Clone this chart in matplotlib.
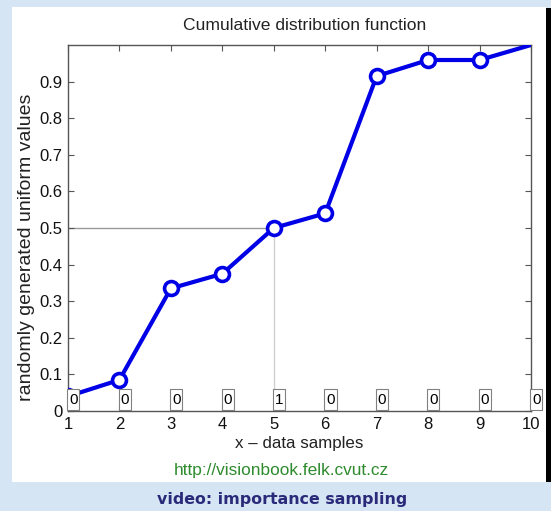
#!/usr/bin/env python3

import matplotlib
import matplotlib.pyplot as plt
import matplotlib.patches as mpatches
from matplotlib.path import Path

matplotlib.use("Agg")

# cumulative distribution of sample weights
x_samples = [1, 2, 3, 4, 5, 6, 7, 8, 9, 10]
cdf_values = [0.04, 0.085, 0.335, 0.375, 0.50, 0.54, 0.915, 0.959, 0.959, 1.0]
# how many times each sample was drawn
draw_counts = [0, 0, 0, 0, 1, 0, 0, 0, 0, 0]
# the uniform value that was drawn, and the sample it maps to
drawn_u = 0.5
drawn_x = 5

y_ticks = [0, 0.1, 0.2, 0.3, 0.4, 0.5, 0.6, 0.7, 0.8, 0.9]
y_ticklabels = ["0", "0.1", "0.2", "0.3", "0.4", "0.5", "0.6", "0.7", "0.8", "0.9"]

FRAME_BLUE = "#d6e5f4"
LINE_BLUE = "#0000e6"

plt.rcParams.update({
    "font.family": "Liberation Sans",
    "font.size": 10,
})


def tall_box(x0, y0, width, height, mutation_size):
    # narrow horizontal padding, a little more vertical padding
    px = 0.12 * mutation_size
    py = 0.25 * mutation_size
    x0, y0 = x0 - px, y0 - py
    x1, y1 = x0 + width + 2 * px, y0 + height + 2 * py
    return Path([(x0, y0), (x1, y0), (x1, y1), (x0, y1), (x0, y0)], closed=True)


W, H = 551, 511
fig = plt.figure(figsize=(W / 100, H / 100), dpi=100)
fig.patch.set_facecolor(FRAME_BLUE)

# white slide area and the dark strip on its right
fig.patches.append(mpatches.Rectangle((12 / W, 1 - 482 / H), (546 - 12) / W, (482 - 7) / H,
                                      transform=fig.transFigure, facecolor="white",
                                      edgecolor="none", zorder=-2))
fig.patches.append(mpatches.Rectangle((546 / W, 1 - 482 / H), 5 / W, (482 - 8) / H,
                                      transform=fig.transFigure, facecolor="black",
                                      edgecolor="none", zorder=-2))

ax = fig.add_axes([68 / W, 1 - 411 / H, (531 - 68) / W, (411 - 45) / H])
ax.set_zorder(2)
ax.set_facecolor("white")

# guide lines for the drawn value
ax.plot([1, drawn_x], [drawn_u, drawn_u], color="#9a9a9a", lw=1.0, zorder=1)
ax.plot([drawn_x, drawn_x], [0, drawn_u], color="#d0d0d0", lw=1.0, zorder=1)

ax.plot(x_samples, cdf_values, color=LINE_BLUE, lw=3.0, zorder=3, clip_on=True)
ax.plot(x_samples[:-1], cdf_values[:-1], ls="none", marker="o", ms=10,
        mfc="white", mec=LINE_BLUE, mew=2.6, zorder=4, clip_on=True)

for xi, c in zip(x_samples, draw_counts):
    ax.text(xi + 0.02, 0.031, str(c), ha="left", va="center", fontsize=11, zorder=5,
            bbox=dict(boxstyle=tall_box, facecolor="white",
                      edgecolor="#808080", linewidth=0.8))

ax.set_xlim(1, 10)
ax.set_ylim(0, 1)
ax.set_xticks(x_samples)
ax.set_yticks(y_ticks)
ax.set_yticklabels(y_ticklabels)
ax.tick_params(direction="in", length=4, width=0.8, top=True, right=True,
               color="#555555", labelsize=12, pad=4, labelcolor="#111111")
for sp in ax.spines.values():
    sp.set_color("#555555")
    sp.set_linewidth(1.0)

fig.text(305 / W, 1 - 26 / H, "Cumulative distribution function", ha="center", va="center",
         fontsize=12.6, color="#222222")
fig.text(27 / W, 1 - 247 / H, "randomly generated uniform values", ha="center", va="center",
         rotation=90, fontsize=14, color="#222222")
fig.text(299 / W, 1 - 443 / H, "x \u2013 data samples", ha="center", va="center",
         fontsize=12.2, color="#222222")
fig.text(281 / W, 1 - 470 / H, "http://visionbook.felk.cvut.cz", ha="center", va="center",
         fontsize=12.4, color="#2e8b2e")
fig.text(282 / W, 1 - 499 / H, "video: importance sampling", ha="center", va="center",
         fontsize=11.4, fontweight="bold", color="#2a2a7a", family="DejaVu Sans")

fig.savefig("out.png", dpi=100, facecolor=fig.get_facecolor())
